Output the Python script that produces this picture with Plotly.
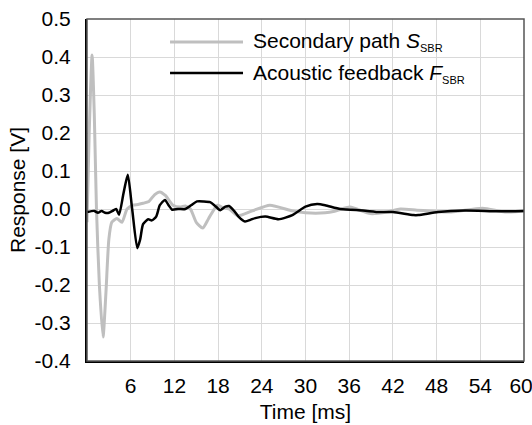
import plotly.graph_objects as go

# Secondary path S_SBR (grey)
t_s = [0, 0.3, 0.7, 1.0, 1.3, 1.7, 2.2, 2.6, 3.0, 3.4, 4.1, 4.8, 5.5, 6.3, 7.0, 7.7, 8.5, 9.3,
       10.0, 10.8, 11.8, 12.8, 13.5, 14.2, 15.0, 15.9, 16.7, 17.9, 18.5, 19.5, 20.7, 22.7,
       25.1, 28.2, 30.0, 32.7, 34.0, 36.1, 38.9, 41.2, 43.0, 45.3, 47.0, 50.0, 54.3, 57.4, 60.0]
v_s = [-0.035, 0.2, 0.405, 0.25, 0.0, -0.2, -0.337, -0.22, -0.08, -0.035, -0.025, -0.035, 0.0,
       0.01, 0.012, 0.015, 0.02, 0.038, 0.045, 0.035, 0.01, 0.005, 0.008, 0.0, -0.035, -0.05,
       -0.025, 0.01, 0.005, 0.0, -0.018, -0.005, 0.01, -0.005, -0.01, -0.01, -0.006, 0.005,
       -0.012, -0.008, 0.0, -0.003, -0.005, -0.008, 0.002, -0.008, -0.005]

# Acoustic feedback F_SBR (black)
t_f = [0, 1.0, 1.5, 2.0, 2.5, 3.0, 3.5, 4.0, 4.4, 5.0, 5.6, 6.2, 6.9, 7.3, 7.7, 8.4, 8.9, 9.5,
       10.0, 10.7, 11.2, 11.7, 12.5, 13.5, 14.3, 15.1, 16.0, 16.9, 17.6, 18.3, 19.0, 19.5,
       20.2, 20.8, 21.7, 22.5, 23.1, 24.5, 26.3, 28.2, 30.0, 31.6, 32.7, 34.8, 37.9, 40.2,
       42.0, 44.8, 45.5, 48.2, 51.9, 56.5, 60.0]
v_f = [-0.008, -0.005, -0.01, -0.005, -0.01, -0.01, -0.005, 0.0, -0.015, 0.04, 0.09, 0.0,
       -0.103, -0.08, -0.04, -0.027, -0.03, -0.02, 0.01, 0.024, 0.01, -0.002, 0.0, 0.0, 0.01,
       0.02, 0.02, 0.018, 0.008, -0.003, 0.006, 0.008, -0.005, -0.02, -0.033, -0.028, -0.024,
       -0.02, -0.027, -0.016, 0.006, 0.013, 0.01, 0.0, -0.004, -0.008, -0.008, -0.016, -0.016,
       -0.008, -0.004, -0.006, -0.005]

x_ticks = [6, 12, 18, 24, 30, 36, 42, 48, 54, 60]
x_labels = ["6", "12", "18", "24", "30", "36", "42", "48", "54", "60&nbsp;"]
y_ticks = [0.5, 0.4, 0.3, 0.2, 0.1, 0.0, -0.1, -0.2, -0.3, -0.4]
y_labels = ["0.5", "0.4", "0.3", "0.2", "0.1", "0.0", "-0.1", "-0.2", "-0.3", "-0.4"]

name_s = "Secondary path <i>S</i><sub><span style='font-size:11px'>SBR</span></sub>"
name_f = "Acoustic feedback <i>F</i><sub><span style='font-size:11px'>SBR</span></sub>"

FONT = "Liberation Sans, Arial, sans-serif"
grey = "#bfbfbf"

fig = go.Figure()
fig.add_trace(go.Scatter(x=t_s, y=v_s, mode="lines", name=name_s,
                         line=dict(color=grey, width=3, shape="spline", smoothing=0.6),
                         showlegend=False))
fig.add_trace(go.Scatter(x=t_f, y=v_f, mode="lines", name=name_f,
                         line=dict(color="black", width=2.5, shape="spline", smoothing=0.6),
                         showlegend=False))

# legend drawn as swatches + labels
for yy, col, w, txt in [(0.933, grey, 3, name_s), (0.842, "black", 2.5, name_f)]:
    fig.add_shape(type="line", xref="paper", yref="paper", x0=0.19, x1=0.357, y0=yy, y1=yy,
                  line=dict(color=col, width=w))
    fig.add_annotation(xref="paper", yref="paper", x=0.375, y=yy, text=txt, showarrow=False,
                       xanchor="left", yanchor="middle", font=dict(size=21, color="black", family=FONT))

fig.add_shape(type="rect", xref="paper", yref="paper", x0=0, x1=1, y0=0, y1=1,
              line=dict(color="#555555", width=1.5), layer="above")

fig.update_layout(
    width=532, height=425,
    margin=dict(l=87, r=8, t=19, b=64, autoexpand=False),
    paper_bgcolor="white", plot_bgcolor="white",
    font=dict(family=FONT, size=21, color="black"),
    showlegend=False,
)
fig.update_xaxes(range=[0, 60], tickvals=x_ticks, ticktext=x_labels,
                 showgrid=True, gridcolor="#d9d9d9", gridwidth=1, zeroline=False,
                 showline=True, linecolor="black", linewidth=2, ticks="",
                 ticklabelstandoff=5, automargin=False, ticklabeloverflow="allow",
                 title=dict(text="Time [ms]", standoff=8, font=dict(size=21)),
                 tickfont=dict(size=21))
fig.update_yaxes(range=[-0.4, 0.5], tickvals=y_ticks, ticktext=y_labels,
                 showgrid=True, gridcolor="#d9d9d9", gridwidth=1, zeroline=False,
                 showline=True, linecolor="black", linewidth=2, ticks="",
                 ticklabelstandoff=10, automargin=False, ticklabeloverflow="allow",
                 title=dict(text="Response [V]", standoff=3, font=dict(size=21)),
                 tickfont=dict(size=21))

fig.write_html("out.html", config={"displayModeBar": False},
               post_script="document.body.style.margin='0';document.body.style.overflow='hidden';")
